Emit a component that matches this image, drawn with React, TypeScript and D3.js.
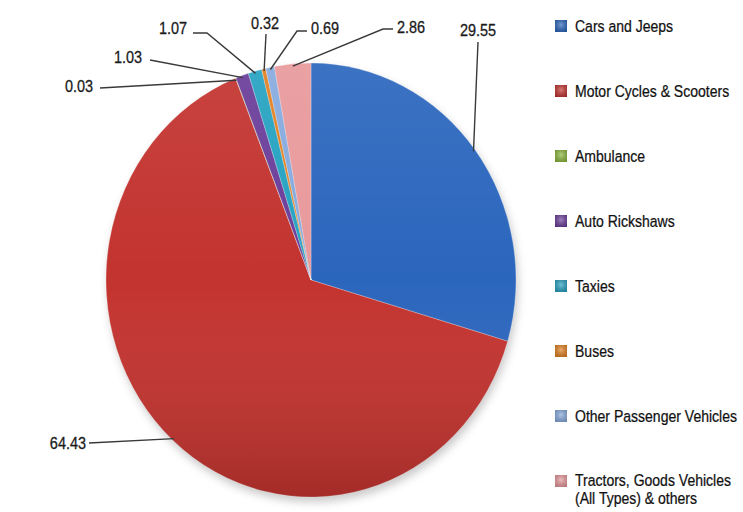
import React from 'react';
import * as d3 from 'd3';

// vehicle share (%) – clockwise from 12 o'clock
const categories = [
  'Cars and Jeeps',
  'Motor Cycles & Scooters',
  'Ambulance',
  'Auto Rickshaws',
  'Taxies',
  'Buses',
  'Other Passenger Vehicles',
  'Tractors, Goods Vehicles|(All Types) & others',
];
const shares = [29.55, 64.43, 0.03, 1.03, 1.07, 0.32, 0.69, 2.86];
const colors = ['#2b66bd', '#c3332f', '#8cb83c', '#6a3d9a', '#25a2c1', '#e3801f', '#86aade', '#e8999b'];

// label placement: text anchor point and leader start / optional elbow
const labelLayout = [
  { x: 460, y: 36, anchor: 'start', start: [478, 42], elbow: null },
  { x: 86, y: 449, anchor: 'end', start: [89, 443], elbow: null },
  { x: 93, y: 92, anchor: 'end', start: [100, 88], elbow: null },
  { x: 142, y: 63, anchor: 'end', start: [150, 60], elbow: null },
  { x: 187, y: 34, anchor: 'end', start: [193, 33], elbow: [207, 33] },
  { x: 265, y: 29, anchor: 'middle', start: [266, 34], elbow: null },
  { x: 311, y: 34, anchor: 'start', start: [307, 31], elbow: [297, 31] },
  { x: 397, y: 33, anchor: 'start', start: [393, 29], elbow: [383, 29] },
];

const W = 743;
const H = 512;
const cx = 311;
const cy = 280;
const rx = 205;
const ry = 217;
const squeeze = 0.85; // fake a condensed face

const App: React.FC = () => {
  const arcs = d3.pie<number>().sort(null).value((d) => d)(shares);
  const arc = d3.arc<d3.PieArcDatum<number>>().innerRadius(0).outerRadius(ry);

  const legendY = d3.scaleLinear().domain([0, categories.length - 1]).range([26, 481]);

  const edgePoint = (a: number, k = 1) => [cx + Math.sin(a) * rx * k, cy - Math.cos(a) * ry * k];

  return (
    <svg width={W} height={H} style={{ position: 'absolute', left: 0, top: 0, background: '#fff' }}
      fontFamily="'Liberation Sans', Arial, sans-serif">
      <defs>
        <filter id="shadow" x="-20%" y="-20%" width="140%" height="140%">
          <feGaussianBlur stdDeviation="4" />
        </filter>
        <linearGradient id="shade" x1="0" y1="0" x2="0" y2="1">
          <stop offset="0" stopColor="#fff" stopOpacity={0.08} />
          <stop offset="0.5" stopColor="#fff" stopOpacity={0} />
          <stop offset="1" stopColor="#000" stopOpacity={0.16} />
        </linearGradient>
        <radialGradient id="mk" cx="0.5" cy="0.4" r="0.7">
          <stop offset="0" stopColor="#fff" stopOpacity={0.35} />
          <stop offset="1" stopColor="#000" stopOpacity={0.2} />
        </radialGradient>
      </defs>

      <ellipse cx={cx + 2} cy={cy + 5} rx={rx} ry={ry} fill="#888" opacity={0.45} filter="url(#shadow)" />

      <g transform={`translate(${cx},${cy}) scale(${rx / ry},1)`}>
        {arcs.map((a, i) => (
          <path key={i} d={arc(a) ?? ''} fill={colors[i]} stroke="#fff" strokeOpacity={0.25}
            strokeWidth={1} vectorEffect="non-scaling-stroke" />
        ))}
        <ellipse cx={0} cy={0} rx={ry} ry={ry} fill="url(#shade)" />
      </g>

      {arcs.map((a, i) => {
        const L = labelLayout[i];
        const mid = (a.startAngle + a.endAngle) / 2;
        const p = edgePoint(mid, 0.99);
        const pts = [L.start, ...(L.elbow ? [L.elbow] : []), p];
        return (
          <g key={i}>
            <polyline points={pts.map((q) => q.join(',')).join(' ')} fill="none" stroke="#3a3a3a" strokeWidth={1.4} />
            <text transform={`translate(${L.x},${L.y}) scale(${squeeze},1)`} textAnchor={L.anchor as any}
              fontSize={17} fill="#1a1a1a" stroke="#1a1a1a" strokeWidth={0.3}>
              {shares[i].toFixed(2)}
            </text>
          </g>
        );
      })}

      {categories.map((c, i) => {
        const y = legendY(i);
        const lines = c.split('|');
        return (
          <g key={c}>
            <rect x={555} y={y - 6} width={12} height={12} fill={colors[i]} />
            <rect x={555} y={y - 6} width={12} height={12} fill="url(#mk)" />
            {lines.map((t, j) => (
              <text key={j} transform={`translate(575,${y + 6 - (lines.length - 1) + j * 17.5}) scale(${squeeze},1)`}
                fontSize={16.5} fill="#111" stroke="#111" strokeWidth={0.25}>{t}</text>
            ))}
          </g>
        );
      })}
    </svg>
  );
};

export default App;
